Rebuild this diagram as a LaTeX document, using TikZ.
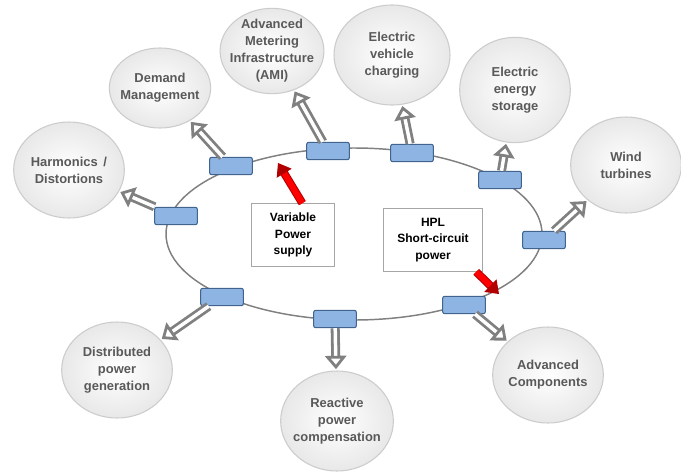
\documentclass[tikz,border=0pt]{standalone}
\usepackage{fontspec}
\setmainfont{Liberation Sans}
\usetikzlibrary{shapes.geometric,arrows.meta}
\definecolor{boxblue}{HTML}{8EB4E3}
\definecolor{boxedge}{HTML}{41648F}
\definecolor{textgrey}{HTML}{595959}
\definecolor{linegrey}{HTML}{808080}
\begin{document}
\begin{tikzpicture}[x=0.75pt,y=-0.75pt]
\tikzstyle{topic}=[ellipse, draw=gray!40, line width=0.8pt, inner color=white, outer color=gray!18, minimum width=83pt, minimum height=72pt, inner sep=-3pt, align=center, text=textgrey, font=\fontsize{9.7}{12.7}\selectfont\bfseries]
\tikzstyle{port}=[rectangle, rounded corners=1.5pt, fill=boxblue, draw=boxedge, line width=0.8pt, minimum width=32pt, minimum height=13pt, inner sep=0pt]
\tikzstyle{note}=[rectangle, draw=gray!70, line width=0.8pt, fill=white, align=center, minimum height=47pt, font=\fontsize{9}{12.2}\selectfont\bfseries]
\tikzstyle{ring}=[ellipse, draw=linegrey, line width=1.1pt, minimum width=282pt, minimum height=129pt, inner sep=0pt]
\tikzstyle{hollow}=[draw=linegrey, line width=2.1pt, double=white, double distance=2.6pt, -{Triangle[open, width=16pt, length=10pt, line width=2.1pt]}, shorten >=1pt]
\tikzstyle{push}=[draw=red!70!black, line width=0.8pt, double=red, double distance=4.5pt, -{Triangle[width=13pt, length=9pt]}]

\useasboundingbox (0,0) rectangle (681,471);

% Ring
\node[ring] (r0) at (354,234) {};

% Topics around the ring
\node[topic] (e1) at (69,170) {Harmonics \,/\\Distortions};
\node[topic, minimum width=76pt, minimum height=60pt] (e2) at (160,88) {Demand\\Management};
\node[topic, minimum width=76pt, minimum height=64pt, inner sep=-4pt] (e3) at (272,51) {Advanced\\Metering\\Infrastructure\\(AMI)};
\node[topic, minimum width=87pt, minimum height=75pt] (e4) at (392,55) {Electric\\vehicle\\charging};
\node[topic, minimum height=79pt] (e5) at (515,90) {Electric\\energy\\storage};
\node[topic] (e6) at (626,165) {Wind\\turbines};
\node[topic] (e7) at (548,375) {Advanced\\Components};
\node[topic, minimum width=77pt, minimum height=75pt] (e8) at (337,421) {Reactive\\power\\compensation};
\node[topic] (e9) at (117,370) {Distributed\\power\\generation};

% Ports on the ring
\node[port] (b1) at (231,166) {};
\node[port] (b2) at (176,216) {};
\node[port] (b3) at (328,151) {};
\node[port] (b4) at (412,153) {};
\node[port] (b5) at (500,180) {};
\node[port] (b6) at (544,240) {};
\node[port] (b7) at (464,305) {};
\node[port] (b8) at (335,319) {};
\node[port] (b9) at (222,297) {};

% Notes
\node[note, minimum width=62pt] (t1) at (293,235) {Variable\\Power\\supply};
\node[note, minimum width=74pt] (t2) at (433,240) {HPL\\Short-circuit\\power};
\coordinate (p1) at (278,163);
\coordinate (p2) at (499,294);

% Connect nodes
\draw[hollow] (b1) -- (e2);
\draw[hollow] (b2) -- (e1);
\draw[hollow] (b3) -- (e3);
\draw[hollow] (b4) -- (e4);
\draw[hollow] (b5) -- (e5);
\draw[hollow] (b6) -- (e6);
\draw[hollow] (b7) -- (e7);
\draw[hollow] (b8) -- (e8);
\draw[hollow] (b9) -- (e9);

\draw[push] ([xshift=7pt]t1.north) -- (p1);
\draw[push] ([xshift=-5pt]t2.south east) -- (p2);
\end{tikzpicture}
\end{document}
